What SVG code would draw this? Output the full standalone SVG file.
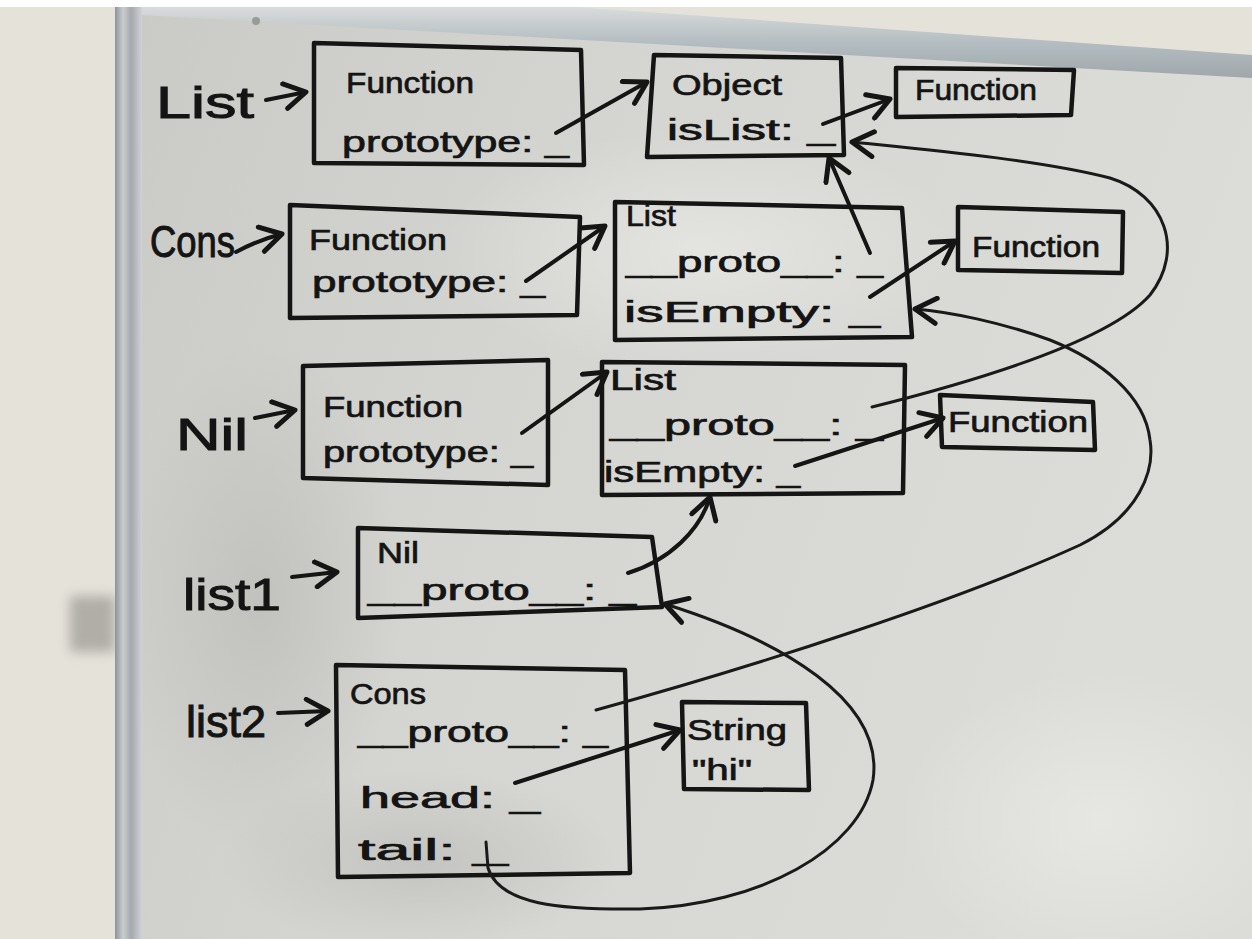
<svg xmlns="http://www.w3.org/2000/svg" width="1252" height="939" viewBox="0 0 1252 939">
<defs>
<linearGradient id="board" x1="0" y1="0" x2="1" y2="0.3">
<stop offset="0" stop-color="#cacac6"/>
<stop offset="0.45" stop-color="#d5d5d1"/>
<stop offset="1" stop-color="#dcdcd8"/>
</linearGradient>
<linearGradient id="vframe" x1="0" y1="0" x2="1" y2="0">
<stop offset="0" stop-color="#8e9397"/>
<stop offset="0.3" stop-color="#c9cdd0"/>
<stop offset="0.6" stop-color="#a4a9ad"/>
<stop offset="1" stop-color="#d0d3d5"/>
</linearGradient>
<linearGradient id="hframe" x1="0" y1="0" x2="0" y2="1">
<stop offset="0" stop-color="#d8dcdc"/>
<stop offset="0.5" stop-color="#b4bdc1"/>
<stop offset="1" stop-color="#9fa7ab"/>
</linearGradient>
<radialGradient id="smudge">
<stop offset="0" stop-color="#b5b5b1" stop-opacity="0.55"/>
<stop offset="1" stop-color="#b5b5b1" stop-opacity="0"/>
</radialGradient>
<radialGradient id="shine">
<stop offset="0" stop-color="#ededea" stop-opacity="0.6"/>
<stop offset="1" stop-color="#ededea" stop-opacity="0"/>
</radialGradient>
<filter id="blur" x="-50%" y="-50%" width="200%" height="200%"><feGaussianBlur stdDeviation="6"/></filter>
<marker id="ah" markerUnits="userSpaceOnUse" markerWidth="30" markerHeight="30" viewBox="-20 -12 24 24" refX="0" refY="0" orient="auto">
<path d="M-17,-10 L0,0 L-17,10" fill="none" stroke="#151515" stroke-width="4" stroke-linecap="round" stroke-linejoin="round"/>
</marker>
<style>
.box{fill:none;stroke:#151515;stroke-width:4.5;stroke-linejoin:round;stroke-linecap:round}
.ln{fill:none;stroke:#151515;stroke-width:4;stroke-linecap:round}
.lnt{fill:none;stroke:#1a1a1a;stroke-width:3;stroke-linecap:round}
.t{font-family:"Liberation Sans","DejaVu Sans",sans-serif;fill:#141414;stroke:#141414;stroke-width:0.7;font-size:30px}
.lbl{font-family:"Liberation Sans","DejaVu Sans",sans-serif;fill:#141414;stroke:#141414;stroke-width:1;font-size:44px}
</style>
</defs>

<!-- wall and board -->
<rect x="0" y="0" width="1252" height="939" fill="#e5e2da"/>
<rect x="0" y="0" width="1252" height="7" fill="#ffffff"/>
<polygon points="140,7 1252,55 1252,939 140,939" fill="url(#board)"/>
<ellipse cx="260" cy="600" rx="140" ry="260" fill="url(#smudge)"/>
<ellipse cx="420" cy="860" rx="200" ry="90" fill="url(#smudge)"/>
<ellipse cx="700" cy="250" rx="260" ry="120" fill="url(#shine)"/>
<ellipse cx="1100" cy="820" rx="200" ry="150" fill="url(#shine)"/>
<rect x="70" y="596" width="45" height="56" fill="#8f8c87" opacity="0.6" filter="url(#blur)"/>
<polygon points="140,7 576,7 1252,55 1252,78 140,15" fill="url(#hframe)"/>
<rect x="115" y="7" width="27" height="932" fill="url(#vframe)"/>
<circle cx="256" cy="21" r="4" fill="#9a9a96"/>

<!-- nodes -->
<g id="label-List"><text class="lbl" x="156" y="118" textLength="98" lengthAdjust="spacingAndGlyphs">List</text></g>
<g id="label-Cons"><text class="lbl" x="150" y="257" font-size="40" textLength="85" lengthAdjust="spacingAndGlyphs">Cons</text></g>
<g id="label-Nil"><text class="lbl" x="176" y="450" textLength="72" lengthAdjust="spacingAndGlyphs">Nil</text></g>
<g id="label-list1"><text class="lbl" x="183" y="610" textLength="98" lengthAdjust="spacingAndGlyphs">list1</text></g>
<g id="label-list2"><text class="lbl" x="186" y="737" textLength="80" lengthAdjust="spacingAndGlyphs">list2</text></g>

<g id="List-function">
<path class="box" d="M314,43 L581,50 L584,165 L314,163 Z"/>
<text class="t" x="346" y="93" textLength="128" lengthAdjust="spacingAndGlyphs">Function</text>
<text class="t" x="342" y="152" font-size="32" textLength="227" lengthAdjust="spacingAndGlyphs">prototype: _</text>
</g>
<g id="List-prototype">
<path class="box" d="M654,55 L841,58 L844,155 L647,157 Z"/>
<text class="t" x="672" y="95" font-size="32" textLength="110" lengthAdjust="spacingAndGlyphs">Object</text>
<text class="t" x="667" y="140" font-size="32" textLength="168" lengthAdjust="spacingAndGlyphs">isList: _</text>
</g>
<g id="isList-function">
<path class="box" d="M896,68 L1074,70 L1071,115 L896,117 Z"/>
<text class="t" x="915" y="100" font-size="28" textLength="122" lengthAdjust="spacingAndGlyphs">Function</text>
</g>

<g id="Cons-function">
<path class="box" d="M290,205 L580,217 L577,315 L290,318 Z"/>
<text class="t" x="309" y="250" textLength="138" lengthAdjust="spacingAndGlyphs">Function</text>
<text class="t" x="312" y="292" font-size="32" textLength="233" lengthAdjust="spacingAndGlyphs">prototype: _</text>
</g>
<g id="Cons-prototype">
<path class="box" d="M615,202 L902,208 L912,337 L615,340 Z"/>
<text class="t" x="626" y="226" font-size="28" textLength="50" lengthAdjust="spacingAndGlyphs">List</text>
<text class="t" x="626" y="272" textLength="257" lengthAdjust="spacingAndGlyphs">__proto__: _</text>
<text class="t" x="624" y="322" font-size="32" textLength="256" lengthAdjust="spacingAndGlyphs">isEmpty: _</text>
</g>
<g id="Cons-isEmpty">
<path class="box" d="M958,207 L1123,212 L1122,273 L958,270 Z"/>
<text class="t" x="972" y="257" textLength="128" lengthAdjust="spacingAndGlyphs">Function</text>
</g>

<g id="Nil-function">
<path class="box" d="M303,366 L548,360 L548,485 L303,478 Z"/>
<text class="t" x="323" y="417" textLength="140" lengthAdjust="spacingAndGlyphs">Function</text>
<text class="t" x="323" y="462" font-size="32" textLength="210" lengthAdjust="spacingAndGlyphs">prototype: _</text>
</g>
<g id="Nil-prototype">
<path class="box" d="M602,362 L905,365 L903,493 L602,495 Z"/>
<text class="t" x="610" y="390" font-size="28" textLength="66" lengthAdjust="spacingAndGlyphs">List</text>
<text class="t" x="610" y="435" textLength="273" lengthAdjust="spacingAndGlyphs">__proto__: _</text>
<text class="t" x="604" y="482" textLength="196" lengthAdjust="spacingAndGlyphs">isEmpty: _</text>
</g>
<g id="Nil-isEmpty">
<path class="box" d="M940,395 L1093,402 L1095,450 L942,447 Z"/>
<text class="t" x="948" y="432" font-size="28" textLength="140" lengthAdjust="spacingAndGlyphs">Function</text>
</g>

<g id="list1">
<path class="box" d="M358,528 L652,537 L662,607 L358,618 Z"/>
<text class="t" x="377" y="563" font-size="28" textLength="42" lengthAdjust="spacingAndGlyphs">Nil</text>
<text class="t" x="368" y="600" textLength="268" lengthAdjust="spacingAndGlyphs">__proto__: _</text>
</g>

<g id="list2">
<path class="box" d="M336,665 L625,670 L630,873 L338,877 Z"/>
<text class="t" x="350" y="704" font-size="28" textLength="76" lengthAdjust="spacingAndGlyphs">Cons</text>
<text class="t" x="358" y="742" font-size="28" textLength="250" lengthAdjust="spacingAndGlyphs">__proto__: _</text>
<text class="t" x="360" y="808" font-size="34" textLength="180" lengthAdjust="spacingAndGlyphs">head: _</text>
<text class="t" x="358" y="860" font-size="32" textLength="150" lengthAdjust="spacingAndGlyphs">tail: _</text>
</g>
<g id="string-hi">
<path class="box" d="M682,702 L806,703 L809,790 L684,789 Z"/>
<text class="t" x="687" y="740" textLength="100" lengthAdjust="spacingAndGlyphs">String</text>
<text class="t" x="692" y="780" textLength="60" lengthAdjust="spacingAndGlyphs">"hi"</text>
</g>

<!-- connectors -->
<g id="connectors">
<path class="ln" marker-end="url(#ah)" d="M266,100 L306,92"/>
<path class="ln" marker-end="url(#ah)" d="M236,252 Q258,240 282,234"/>
<path class="ln" marker-end="url(#ah)" d="M255,418 L295,410"/>
<path class="ln" marker-end="url(#ah)" d="M292,577 L337,572"/>
<path class="ln" marker-end="url(#ah)" d="M278,713 L328,711"/>
<path class="ln" marker-end="url(#ah)" d="M556,133 L647,82"/>
<path class="ln" marker-end="url(#ah)" d="M823,124 L890,99"/>
<path class="ln" marker-end="url(#ah)" d="M526,281 L605,226"/>
<path class="ln" marker-end="url(#ah)" d="M870,253 L829,158"/>
<path class="ln" marker-end="url(#ah)" d="M870,297 L955,241"/>
<path class="ln" marker-end="url(#ah)" d="M522,433 L607,372"/>
<path class="lnt" marker-end="url(#ah)" d="M872,407 C980,380 1110,340 1150,295 C1185,250 1165,195 1110,178 C1040,160 930,150 852,142"/>
<path class="ln" marker-end="url(#ah)" d="M795,466 L943,418"/>
<path class="ln" marker-end="url(#ah)" d="M628,573 C670,560 700,530 710,497"/>
<path class="lnt" marker-end="url(#ah)" d="M596,710 C760,665 960,600 1080,545 C1140,515 1155,470 1150,440 C1145,395 1100,360 1050,340 C1000,322 950,312 915,309"/>
<path class="ln" marker-end="url(#ah)" d="M515,783 L680,730"/>
<path class="lnt" marker-end="url(#ah)" d="M486,842 L488,868 C500,905 560,910 640,909 C760,905 860,850 873,780 C885,700 780,640 665,604"/>
</g>
</svg>
